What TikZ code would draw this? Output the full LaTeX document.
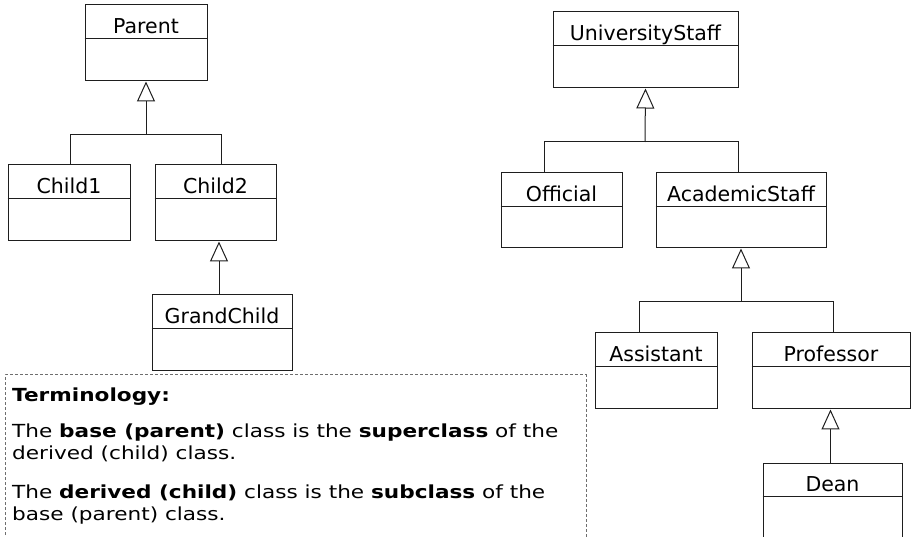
\documentclass[tikz,border=0pt]{standalone}
\usepackage{fontspec}
\setmainfont{DejaVu Sans}
\newfontfamily\termfont[FakeStretch=1.2]{DejaVu Sans}
\usetikzlibrary{arrows.meta}
\definecolor{boxline}{RGB}{30,30,30}
\definecolor{dashline}{RGB}{110,110,110}
\tikzset{
  cls/.style={draw=boxline, line width=1pt, fill=white, inner sep=0pt},
  clsline/.style={draw=boxline, line width=1pt},
  clslabel/.style={anchor=base, inner sep=0pt, font=\fontsize{20.5}{24}\selectfont},
  gen/.style={draw=boxline, line width=1pt, -{Triangle[open, length=20pt, width=18pt, fill=white]}},
  genline/.style={draw=boxline, line width=1pt},
  termbox/.style={draw=dashline, line width=1pt, dash pattern=on 3pt off 2pt},
  termtext/.style={anchor=base west, inner sep=0pt, font=\termfont\fontsize{18}{22}\selectfont},
}
\newcommand\umlcls[6]{%
  \node[cls, minimum width={#4-#2}, minimum height={#5-#3}] (#1) at ({(#2+#4)/2},{(#3+#5)/2}) {};
  \draw[clsline] ([yshift=-34pt]#1.north west) -- ([yshift=-34pt]#1.north east);
  \node[clslabel] (#1-l) at ([yshift=-29pt]#1.north) {#6};
}
\begin{document}
\begin{tikzpicture}[x=1pt,y=-1pt]
\useasboundingbox (0,0) rectangle (911,537);
\clip (0,0) rectangle (911,537);
% left tree
\umlcls{parent}{85}{5}{207}{81}{Parent}
\umlcls{child1}{8}{165}{130}{241}{Child1}
\umlcls{child2}{155}{165}{276}{241}{Child2}
\umlcls{grand}{152}{295}{292}{371}{GrandChild}
\coordinate (j1) at (146,135);
\draw[genline] ([xshift=1pt]child1.north) |- (j1);
\draw[genline] ([xshift=6pt]child2.north) |- (j1);
\draw[gen] (j1) -- (parent.south);
\draw[gen] ([xshift=-3pt]grand.north) -- ([xshift=-3pt]grand.north |- child2.south);
% right tree
\umlcls{ustaff}{553}{12}{738}{88}{UniversityStaff}
\umlcls{official}{501}{173}{622}{248}{Official}
\umlcls{acad}{656}{173}{826}{248}{AcademicStaff}
\umlcls{assist}{595}{333}{717}{409}{Assistant}
\umlcls{prof}{752}{333}{910}{409}{Professor}
\umlcls{dean}{763}{463}{902}{560}{Dean}
\coordinate (j2) at (645,142);
\draw[genline] ([xshift=-17pt]official.north) |- (j2);
\draw[genline] ([xshift=-3pt]acad.north) |- (j2);
\draw[gen] (j2) -- (ustaff.south);
\coordinate (j3) at (741,302);
\draw[genline] ([xshift=-17pt]assist.north) |- (j3);
\draw[genline] ([xshift=2pt]prof.north) |- (j3);
\draw[gen] (j3) -- (acad.south);
\draw[gen] ([xshift=-2pt]dean.north) -- ([xshift=-2pt]dean.north |- prof.south);
% terminology
\draw[termbox] (5,550) -- (5,375) -- (586,375) -- (586,550);
\node[termtext] (t0) at (12,402) {\textbf{Terminology:}};
\node[termtext] (t1) at (12,438) {The \textbf{base (parent)} class is the \textbf{superclass} of the};
\node[termtext] (t2) at (12,460) {derived (child) class.};
\node[termtext] (t3) at (12,498) {The \textbf{derived (child)} class is the \textbf{subclass} of the};
\node[termtext] (t4) at (12,520) {base (parent) class.};
\end{tikzpicture}
\end{document}
